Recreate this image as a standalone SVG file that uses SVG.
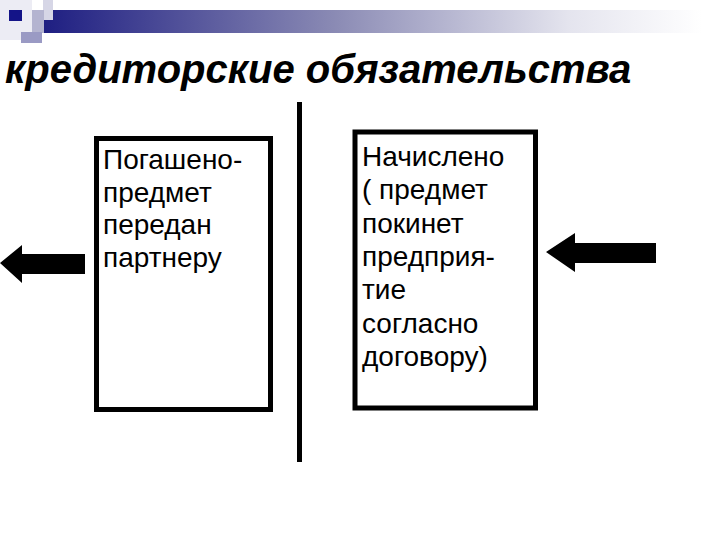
<svg xmlns="http://www.w3.org/2000/svg" width="720" height="540" viewBox="0 0 720 540">
<defs>
<linearGradient id="bar" x1="0" y1="0" x2="1" y2="0">
<stop offset="0" stop-color="#1a1a80"/>
<stop offset="0.45" stop-color="#8a8ab4"/>
<stop offset="0.8" stop-color="#e4e4ee"/>
<stop offset="1" stop-color="#ffffff"/>
</linearGradient>
<style>
.box{fill:#ffffff;stroke:#000000;stroke-width:5}
.txt{font-family:"Liberation Sans",Arial,sans-serif;font-size:28px;fill:#000000}
.title{font-family:"Liberation Sans",Arial,sans-serif;font-size:40px;font-weight:bold;font-style:italic;fill:#000000}
.arrow{fill:#000000}
</style>
</defs>
<rect width="720" height="540" fill="#ffffff"/>
<g id="decoration">
<rect x="0" y="0" width="32" height="40" fill="#ececf4"/>
<rect x="32" y="10" width="670" height="23" fill="url(#bar)"/>
<rect x="43" y="0" width="10" height="20" fill="#d6d6e6"/>
<rect x="32" y="10" width="12" height="23" fill="#b4b4d0"/>
<rect x="21" y="32" width="21" height="11" fill="#9a9ac4"/>
<rect x="9" y="10" width="13" height="11" fill="#141488"/>
</g>
<g id="title">
<text class="title" x="5" y="83">кредиторские обязательства</text>
</g>
<g id="divider">
<rect x="297" y="102" width="5" height="360" fill="#000000"/>
</g>
<g id="node-left">
<rect class="box" x="96.5" y="138.5" width="174" height="271"/>
<text class="txt" x="103"><tspan x="103" y="169">Погашено-</tspan><tspan x="103" y="201.5">предмет</tspan><tspan x="103" y="234">передан</tspan><tspan x="103" y="266.5">партнеру</tspan></text>
</g>
<g id="node-right">
<rect class="box" x="355" y="132" width="180.5" height="276"/>
<text class="txt" x="362"><tspan x="362" y="166">Начислено</tspan><tspan x="362" y="199.3">( предмет</tspan><tspan x="362" y="232.6">покинет</tspan><tspan x="362" y="265.9">предприя-</tspan><tspan x="362" y="299.2">тие</tspan><tspan x="362" y="332.5">согласно</tspan><tspan x="362" y="365.8">договору)</tspan></text>
</g>
<g id="connectors">
<polygon class="arrow" points="0,263 22,245 22,254 85,254 85,274 22,274 22,283"/>
<polygon class="arrow" points="546,252 575,233 575,243 656,243 656,263 575,263 575,272"/>
</g>
</svg>
